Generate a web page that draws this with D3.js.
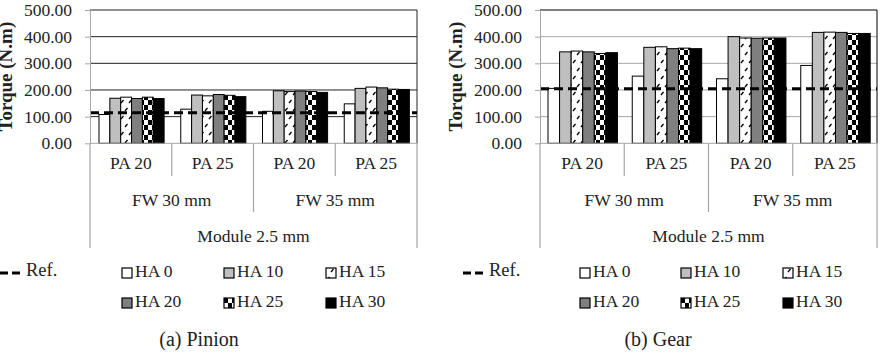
<!DOCTYPE html>
<html>
<head>
<meta charset="utf-8">
<script src="https://cdn.jsdelivr.net/npm/d3@7"></script>
<style>
  body { margin: 0; background: #fff; }
  svg { display: block; }
  svg text { font-family: "Liberation Serif", "Times New Roman", "DejaVu Serif", serif !important; }
</style>
</head>
<body>
<svg id="chart" width="881" height="358"></svg>
<script>
const paLabels = ["PA 20", "PA 25", "PA 20", "PA 25"];
const fwLabels = ["FW 30 mm", "FW 35 mm"];
const moduleLabel = "Module 2.5 mm";
const haSeries = ["HA 0", "HA 10", "HA 15", "HA 20", "HA 25", "HA 30"];
const yTicks = [0, 100, 200, 300, 400, 500];

// torque for each HA series, one value per PA / FW column
const pinionTorque = [
  [108, 128, 120, 148],
  [169, 181, 197, 206],
  [173, 178, 194, 211],
  [168, 183, 196, 208],
  [173, 180, 194, 203],
  [168, 175, 191, 202]
];
const gearTorque = [
  [206, 252, 242, 292],
  [343, 360, 400, 416],
  [346, 362, 395, 417],
  [343, 355, 394, 416],
  [337, 357, 395, 412],
  [340, 355, 395, 412]
];
const pinionRef = 115;
const gearRef = 205;

const serif = "'Liberation Serif', 'Times New Roman', 'DejaVu Serif', serif";

const svg = d3.select("#chart").attr("font-family", serif);
svg.append("rect").attr("width", 881).attr("height", 358).attr("fill", "#fff");

// patterns for HA 15 and HA 25
const defs = svg.append("defs");
const hatch = defs.append("pattern").attr("id", "hatch")
  .attr("patternUnits", "userSpaceOnUse").attr("width", 8).attr("height", 16);
hatch.append("rect").attr("width", 8).attr("height", 16).attr("fill", "#fff");
hatch.append("line").attr("x1", 1).attr("y1", 7).attr("x2", 3.5).attr("y2", 4)
  .attr("stroke", "#000").attr("stroke-width", 1.3);
hatch.append("line").attr("x1", 5).attr("y1", 15).attr("x2", 7.5).attr("y2", 12)
  .attr("stroke", "#000").attr("stroke-width", 1.3);

const checker = defs.append("pattern").attr("id", "checker")
  .attr("patternUnits", "userSpaceOnUse").attr("width", 8).attr("height", 10);
checker.append("rect").attr("width", 8).attr("height", 10).attr("fill", "#000");
checker.append("rect").attr("width", 4).attr("height", 5).attr("fill", "#fff");
checker.append("rect").attr("x", 4).attr("y", 5).attr("width", 4).attr("height", 5).attr("fill", "#fff");

const fills = ["#fff", "#bfbfbf", "url(#hatch)", "#7f7f7f", "url(#checker)", "#000"];

const plotTop = 10, base = 143.3;
const y = d3.scaleLinear().domain([0, 500]).range([base, plotTop]);

const panels = [
  {values: pinionTorque, ref: pinionRef, caption: "(a) Pinion", left: 90, right: 417,
   grid: "#222", border: "#222", pad: 0.11, refDash: 0, legendX: [122, 224, 326], captionX: 199},
  {values: gearTorque, ref: gearRef, caption: "(b) Gear", left: 540, right: 877,
   grid: "#a6a6a6", border: "#000", pad: 0.095, refDash: 463, legendX: [580, 681, 783], captionX: 658}
];

panels.forEach(p => {
  const g = svg.append("g");

  const x0 = d3.scaleBand().domain(d3.range(paLabels.length)).range([p.left, p.right]);
  const bw = x0.bandwidth();
  const x1 = d3.scaleBand().domain(d3.range(haSeries.length))
    .range([p.pad * bw, bw - p.pad * 0.85 * bw]);

  // gridlines
  g.selectAll(".grid").data(yTicks.filter(d => d > 0)).join("line")
    .attr("x1", p.left).attr("x2", p.right)
    .attr("y1", d => y(d)).attr("y2", d => y(d))
    .attr("stroke", d => d === 500 ? p.border : p.grid).attr("stroke-width", 1);
  g.append("line").attr("x1", p.right).attr("x2", p.right).attr("y1", plotTop).attr("y2", base)
    .attr("stroke", p.border);

  // bars
  p.values.forEach((vals, s) => {
    g.selectAll(null).data(vals).join("rect")
      .attr("x", (d, i) => x0(i) + x1(s))
      .attr("y", d => y(d))
      .attr("width", x1.bandwidth())
      .attr("height", d => base - y(d))
      .attr("fill", fills[s])
      .attr("stroke", "#000").attr("stroke-width", 1);
  });

  // reference line
  g.append("line").attr("x1", p.left).attr("x2", p.right)
    .attr("y1", y(p.ref)).attr("y2", y(p.ref))
    .attr("stroke", "#000").attr("stroke-width", 3).attr("stroke-dasharray", "9,5");

  // y axis
  const axis = g.append("g").attr("transform", `translate(${p.left},0)`)
    .call(d3.axisLeft(y).tickValues(yTicks).tickFormat(d3.format(".2f"))
      .tickSize(5).tickSizeOuter(0).tickPadding(13));
  axis.attr("font-family", serif);
  axis.select(".domain").attr("stroke", "#a6a6a6");
  axis.selectAll(".tick line").attr("stroke", "#a6a6a6");
  axis.selectAll("text").attr("font-size", 17.5).attr("fill", "#222");

  g.append("text")
    .attr("transform", `translate(${p.left - 82},${(plotTop + base) / 2}) rotate(-90)`)
    .attr("text-anchor", "middle").attr("dominant-baseline", "middle")
    .attr("font-size", 19).attr("font-weight", "bold").attr("fill", "#222")
    .text("Torque (N.m)");

  // multi-level category axis
  g.append("line").attr("x1", p.left).attr("x2", p.right).attr("y1", base).attr("y2", base)
    .attr("stroke", "#a6a6a6");
  const divs = d3.range(paLabels.length + 1).map(i => ({
    x: p.left + i * bw,
    len: (i === 0 || i === paLabels.length) ? 248 : (i === 2 ? 212 : 176)
  }));
  g.selectAll(null).data(divs).join("line")
    .attr("x1", d => d.x).attr("x2", d => d.x)
    .attr("y1", base).attr("y2", d => d.len)
    .attr("stroke", "#a6a6a6").attr("stroke-width", 1.2);

  g.selectAll(null).data(paLabels).join("text")
    .attr("x", (d, i) => x0(i) + bw / 2).attr("y", 165)
    .attr("text-anchor", "middle").attr("dominant-baseline", "middle")
    .attr("font-size", 17.5).attr("fill", "#222").text(d => d);
  g.selectAll(null).data(fwLabels).join("text")
    .attr("x", (d, i) => p.left + (i * 2 + 1) * bw).attr("y", 202)
    .attr("text-anchor", "middle").attr("dominant-baseline", "middle")
    .attr("font-size", 17.5).attr("fill", "#222").text(d => d);
  g.append("text")
    .attr("x", (p.left + p.right) / 2).attr("y", 238)
    .attr("text-anchor", "middle").attr("dominant-baseline", "middle")
    .attr("font-size", 17.5).attr("fill", "#222").text(moduleLabel);

  // legend
  g.append("line").attr("x1", p.refDash).attr("x2", p.refDash + 20)
    .attr("y1", 273).attr("y2", 273)
    .attr("stroke", "#000").attr("stroke-width", 3).attr("stroke-dasharray", "8,4");
  g.append("text").attr("x", p.refDash + 26).attr("y", 272)
    .attr("dominant-baseline", "middle").attr("font-size", 18.5).attr("fill", "#222")
    .text("Ref.");

  const items = g.selectAll(".leg").data(haSeries).join("g")
    .attr("transform", (d, i) => `translate(${p.legendX[i % 3]},${i < 3 ? 273 : 303})`);
  items.append("rect").attr("x", 0).attr("y", -5).attr("width", 10).attr("height", 10)
    .attr("fill", (d, i) => fills[i]).attr("stroke", "#000").attr("stroke-width", 1.2);
  items.append("text").attr("x", 13).attr("y", 0).attr("dominant-baseline", "middle")
    .attr("font-size", 17.5).attr("fill", "#222").text(d => d);

  g.append("text").attr("x", p.captionX).attr("y", 341)
    .attr("text-anchor", "middle").attr("dominant-baseline", "middle")
    .attr("font-size", 20).attr("fill", "#222").text(p.caption);
});
</script>
</body>
</html>
